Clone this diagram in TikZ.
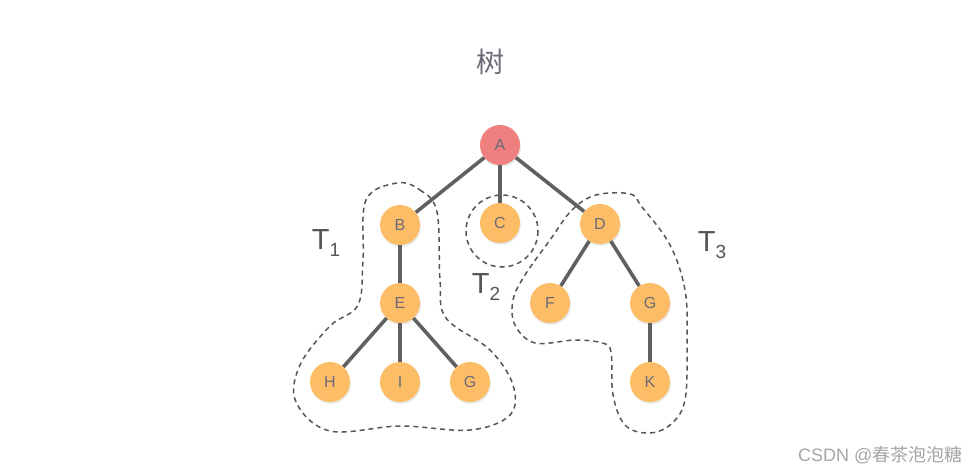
\documentclass[tikz,border=0pt]{standalone}
\usepackage{fontspec}
\setmainfont{Liberation Sans}
\newfontfamily\cjk{Noto Sans CJK SC}
\usetikzlibrary{shadows}
\definecolor{nodeorange}{HTML}{FDBD66}
\definecolor{nodered}{HTML}{F08080}
\definecolor{edgegray}{HTML}{606060}
\definecolor{textgray}{HTML}{6B6B78}
\definecolor{dashgray}{HTML}{555555}
\tikzset{
  tnode/.style={circle, minimum size=40pt, inner sep=0pt, fill=nodeorange, text=textgray, font=\fontsize{16}{16}\selectfont,
    drop shadow={opacity=0.18, shadow xshift=0.8pt, shadow yshift=-1.8pt}},
  rootnode/.style={tnode, fill=nodered},
  edge/.style={draw=edgegray, line width=3.6pt},
  group/.style={draw=dashgray, line width=1.5pt, dash pattern=on 5pt off 4pt},
  tlabel/.style={text=dashgray, font=\fontsize{29}{29}\selectfont},
}
\begin{document}
\begin{tikzpicture}[x=1pt, y=-1pt]
\useasboundingbox[fill=white] (0,0) rectangle (980,474);
% groups
\draw[group] plot[smooth cycle, tension=0.6] coordinates {
 (397,183) (420,190) (437,212) (440,280) (446,318) (490,350) (513,385) (510,415) (470,430) (400,426) (330,431) (296,402) (300,365) (330,326) (358,305) (363,260) (366,200)};
\draw[group] (502,231) circle [x radius=36, y radius=36];
\draw[group] plot[smooth cycle, tension=0.6] coordinates {
 (596,195) (630,194) (642,207) (670,245) (685,290) (687,340) (685,400) (670,425) (648,433) (625,425) (613,395) (611,352) (602,343) (575,340) (535,343) (515,325) (513,300) (525,275) (550,240) (572,210)};
% nodes
\node[rootnode] (A) at (500,145) {A};
\node[tnode] (B) at (400,225) {B};
\node[tnode] (C) at (500,223) {C};
\node[tnode] (D) at (600,224) {D};
\node[tnode] (E) at (400,303) {E};
\node[tnode] (F) at (550,303) {F};
\node[tnode] (G) at (650,303) {G};
\node[tnode] (H) at (330,382) {H};
\node[tnode] (I) at (400,382) {I};
\node[tnode] (G2) at (470,382) {G};
\node[tnode] (K) at (650,382) {K};
% edges
\draw[edge] (A) -- (B);
\draw[edge] (A) -- (C);
\draw[edge] (A) -- (D);
\draw[edge] (B) -- (E);
\draw[edge] (E) -- (H);
\draw[edge] (E) -- (I);
\draw[edge] (E) -- (G2);
\draw[edge] (D) -- (F);
\draw[edge] (D) -- (G);
\draw[edge] (G) -- (K);
% labels
\node[text=textgray, font=\cjk\fontsize{28}{28}\selectfont] (title) at (490,62) {树};
\node[tlabel] (t1) at (326,243) {T\raisebox{-0.25em}{\fontsize{19}{19}\selectfont 1}};
\node[tlabel] (t2) at (486,287) {T\raisebox{-0.25em}{\fontsize{19}{19}\selectfont 2}};
\node[tlabel] (t3) at (712,245) {T\raisebox{-0.25em}{\fontsize{19}{19}\selectfont 3}};
\node[anchor=east, text=gray!70, font=\fontsize{18}{18}\selectfont] (wm) at (966,455) {CSDN @{\cjk 春茶泡泡糖}};
\end{tikzpicture}
\end{document}
